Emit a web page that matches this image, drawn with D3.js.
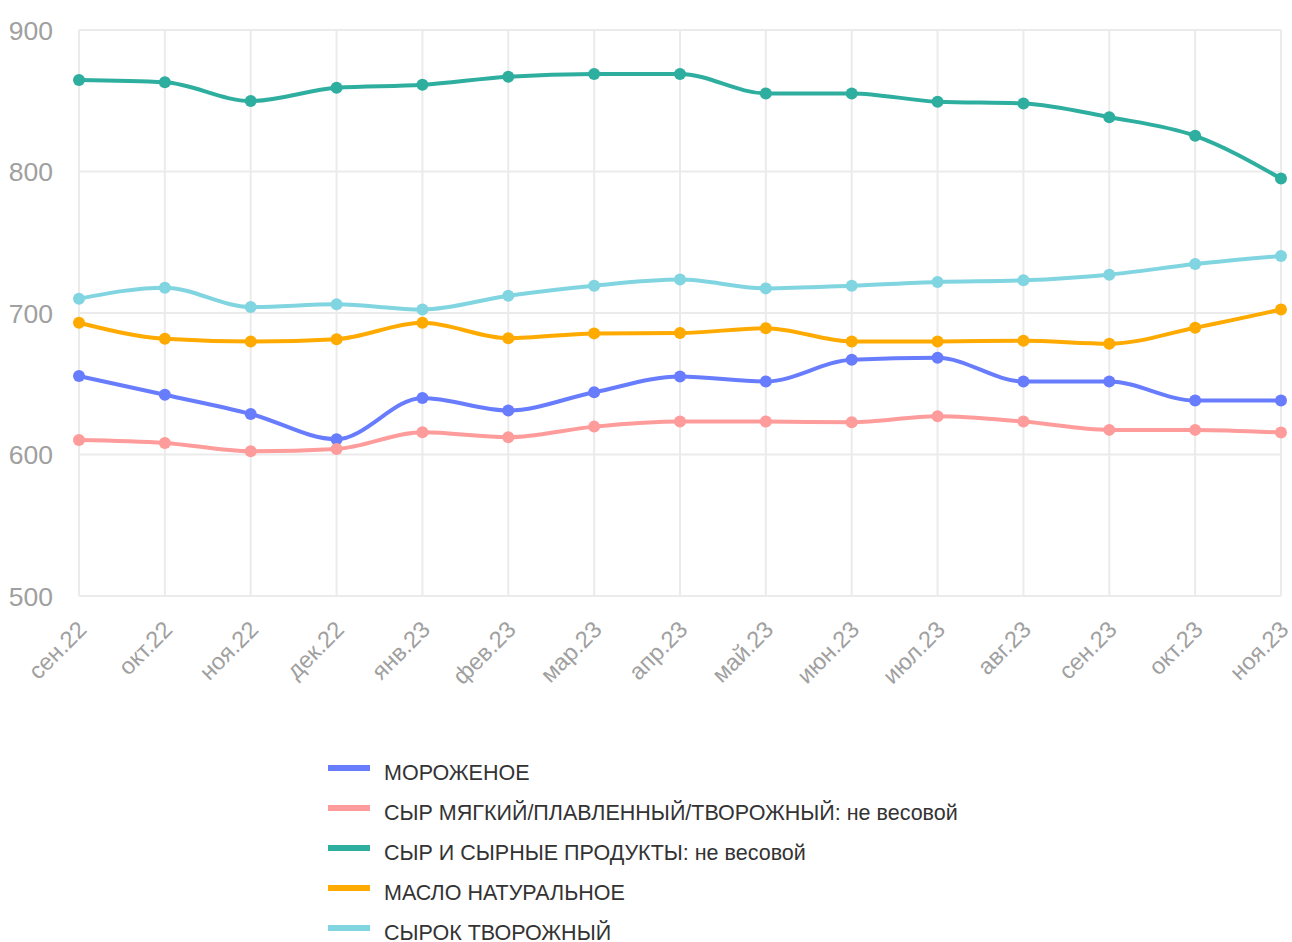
<!DOCTYPE html>
<html><head><meta charset="utf-8">
<script src="https://cdn.jsdelivr.net/npm/d3@7"></script>
<style>body{margin:0;background:#fff;}svg{display:block;font-family:"Liberation Sans",Arial,Helvetica,sans-serif;}</style>
</head><body><svg id="c" width="1292" height="942"></svg>
<script>
const months = ["сен.22","окт.22","ноя.22","дек.22","янв.23","фев.23","мар.23","апр.23","май.23","июн.23","июл.23","авг.23","сен.23","окт.23","ноя.23"];
const yTicks = [500,600,700,800,900];
const seriesNames = ["МОРОЖЕНОЕ","СЫР МЯГКИЙ/ПЛАВЛЕННЫЙ/ТВОРОЖНЫЙ: не весовой","СЫР И СЫРНЫЕ ПРОДУКТЫ: не весовой","МАСЛО НАТУРАЛЬНОЕ","СЫРОК ТВОРОЖНЫЙ"];
const seriesColors = ["#687cfe","#fe9b9b","#2eae9f","#ffaa00","#80d5e1"];
const iceCream = [655.4,642.2,628.7,610.8,640.0,631.1,644.0,655.2,651.6,667.0,668.3,651.6,651.6,638.1,638.1];
const softCheese = [610.3,608.2,602.3,603.9,615.7,612.2,619.7,623.3,623.3,622.8,627.0,623.3,617.4,617.4,615.5];
const cheese = [864.6,863.0,849.8,859.2,861.3,867.0,868.9,868.9,855.2,855.2,849.3,848.1,838.4,825.2,795.0];
const butter = [693.1,681.8,679.9,681.5,693.1,682.2,685.6,685.8,689.3,679.9,679.9,680.4,678.3,689.6,702.5];
const curd = [710.1,717.9,704.2,706.1,702.5,712.2,719.3,723.6,717.4,719.3,721.9,723.1,727.1,734.6,740.3];
const seriesValues = [iceCream, softCheese, cheese, butter, curd];

const svg = d3.select("#c");
const L = 79, R = 1281, T = 30, B = 596;
const x = d3.scalePoint().domain(months).range([L, R]);
const y = d3.scaleLinear().domain([500, 900]).range([B, T]);

const grid = svg.append("g");
grid.selectAll("line.h").data(yTicks).join("line")
  .attr("x1", L).attr("x2", R).attr("y1", d => y(d)).attr("y2", d => y(d))
  .attr("stroke", "#ebebeb").attr("stroke-width", 2);
grid.selectAll("line.v").data(months).join("line")
  .attr("x1", d => x(d)).attr("x2", d => x(d)).attr("y1", T).attr("y2", B)
  .attr("stroke", "#ebebeb").attr("stroke-width", 2);

svg.append("g").selectAll("text").data(yTicks).join("text")
  .attr("x", 53).attr("y", d => y(d)).attr("dy", "0.36em")
  .attr("text-anchor", "end").attr("fill", "#a0a0a0").attr("font-size", 26.5)
  .text(d => d);

svg.append("g").selectAll("text").data(months).join("text")
  .attr("transform", d => `translate(${x(d) + 9},${B + 35}) rotate(-45)`)
  .attr("text-anchor", "end").attr("fill", "#a0a0a0").attr("font-size", 23.5)
  .text(d => d);

const line = d3.line().x((d, i) => x(months[i])).y(d => y(d)).curve(d3.curveMonotoneX);
seriesValues.forEach((vals, s) => {
  const g = svg.append("g");
  g.append("path").attr("d", line(vals)).attr("fill", "none")
    .attr("stroke", seriesColors[s]).attr("stroke-width", 4);
  g.selectAll("circle").data(vals).join("circle")
    .attr("cx", (d, i) => x(months[i])).attr("cy", d => y(d)).attr("r", 6)
    .attr("fill", seriesColors[s]);
});

const leg = svg.append("g");
seriesNames.forEach((name, i) => {
  const yy = 772 + i * 40;
  leg.append("rect").attr("x", 328).attr("y", yy - 7).attr("width", 42).attr("height", 6).attr("fill", seriesColors[i]);
  leg.append("text").attr("x", 384).attr("y", yy).attr("dy", "0.36em")
    .attr("fill", "#333").attr("font-size", 21.5).text(name);
});
</script></body></html>
